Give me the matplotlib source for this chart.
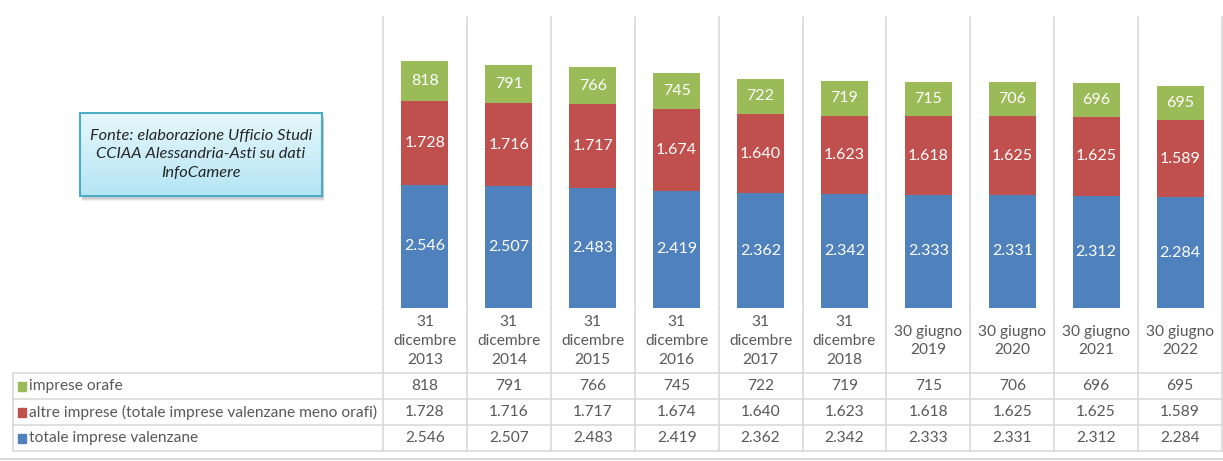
import numpy as np
import matplotlib
matplotlib.use("Agg")
import matplotlib.pyplot as plt
from matplotlib.patches import FancyBboxPatch, Rectangle
from matplotlib.colors import LinearSegmentedColormap

# data
categories = ["31\ndicembre\n2013", "31\ndicembre\n2014", "31\ndicembre\n2015",
              "31\ndicembre\n2016", "31\ndicembre\n2017", "31\ndicembre\n2018",
              "30 giugno\n2019", "30 giugno\n2020", "30 giugno\n2021", "30 giugno\n2022"]
orafe = [818, 791, 766, 745, 722, 719, 715, 706, 696, 695]
altre = [1728, 1716, 1717, 1674, 1640, 1623, 1618, 1625, 1625, 1589]
totale = [2546, 2507, 2483, 2419, 2362, 2342, 2333, 2331, 2312, 2284]

series_names = ["imprese orafe",
                "altre imprese (totale imprese valenzane meno orafi)",
                "totale imprese valenzane"]
blue, red, green = "#4F81BD", "#C0504D", "#9BBB59"
gridc = "#D9D9D9"
txtc = "#595959"

plt.rcParams['font.family'] = ['Lato', 'DejaVu Sans']
fs = 11.2


def fmt(v):
    # italian thousands separator
    return "{:,}".format(v).replace(",", ".")


W, H = 1223, 461
fig = plt.figure(figsize=(W / 100, H / 100), dpi=100)


def px_axes(x0, y0, x1, y1, **kw):
    return fig.add_axes([x0 / W, 1 - y1 / H, (x1 - x0) / W, (y1 - y0) / H], **kw)


n = len(categories)
x = np.arange(n)

# bars
ax = px_axes(383, 17, 1222, 308)
ax.set_xlim(-0.5, n - 0.5)
ax.set_ylim(0, 6000)
ax.axis("off")
bw = 0.56
b1 = ax.bar(x, totale, bw, color=blue)
b2 = ax.bar(x, altre, bw, bottom=totale, color=red)
b3 = ax.bar(x, orafe, bw, bottom=np.add(totale, altre), color=green)
for bars, vals in [(b1, totale), (b2, altre), (b3, orafe)]:
    for b, v in zip(bars, vals):
        ax.text(b.get_x() + b.get_width() / 2, b.get_y() + b.get_height() / 2,
                fmt(v), ha="center", va="center", color="white", fontsize=11.5)
for i in range(n + 1):
    ax.axvline(i - 0.5, color=gridc, lw=1.2, clip_on=False)

# data table below
left_units = (383 - 13) / ((1222 - 383) / n)
tb = px_axes(13, 308, 1222, 451)
tb.set_xlim(-0.5 - left_units, n - 0.5)
tb.set_ylim(143, 0)
tb.axis("off")
rows_y = [65, 91, 117, 143]
for i in range(n + 1):
    tb.plot([i - 0.5, i - 0.5], [0, 143], color=gridc, lw=1.2, clip_on=False)
xl = -0.5 - left_units
for yy in rows_y:
    tb.plot([xl, n - 0.5], [yy, yy], color=gridc, lw=1.2, clip_on=False)
tb.plot([xl, xl], [65, 143], color=gridc, lw=1.2, clip_on=False)
for i, c in enumerate(categories):
    tb.text(i, 33, c, ha="center", va="center", color=txtc, fontsize=fs,
            linespacing=1.45)
row_vals = [orafe, altre, totale]
row_cols = [green, red, blue]
for r, (name, vals, col) in enumerate(zip(series_names, row_vals, row_cols)):
    yc = (rows_y[r] + rows_y[r + 1]) / 2
    tb.add_patch(Rectangle((xl + 0.06, yc - 4.5), 0.1, 9, color=col, clip_on=False))
    tb.text(xl + 0.19, yc, name, ha="left", va="center", color=txtc, fontsize=fs)
    for i, v in enumerate(vals):
        tb.text(i, yc, fmt(v), ha="center", va="center", color=txtc, fontsize=fs)

# bottom border of chart area
fig.add_artist(plt.Line2D([0, 1], [1 - 459 / H, 1 - 459 / H],
                          color="#D9D9D9", lw=1.5))

# source note box with soft shadow and gradient fill
bx0, by0, bx1, by1 = 80, 113, 322, 196
for k, a in [(5, 0.12), (4, 0.15), (3, 0.2)]:
    fig.add_artist(FancyBboxPatch(((bx0 + 2) / W, 1 - (by1 + k) / H),
                                  (bx1 - bx0) / W, (by1 - by0) / H,
                                  boxstyle="square,pad=0", transform=fig.transFigure,
                                  facecolor="#808080", edgecolor="none", alpha=a,
                                  zorder=-5))
bax = px_axes(bx0, by0, bx1, by1)
bax.set_zorder(2)
bax.axis("off")
grad = LinearSegmentedColormap.from_list("g", ["#E6F7FC", "#B5E5F4"])
bax.imshow(np.linspace(0, 1, 100).reshape(-1, 1), cmap=grad, aspect="auto",
           extent=[0, 1, 0, 1], origin="upper")
bax.set_xlim(0, 1)
bax.set_ylim(0, 1)
bax.add_patch(Rectangle((0, 0), 1, 1, transform=bax.transAxes, fill=False,
                        edgecolor="#4BACC6", lw=1.5, clip_on=False))
bax.text(0.5, 0.5,
         "Fonte: elaborazione Ufficio Studi\nCCIAA Alessandria-Asti su dati\nInfoCamere",
         ha="center", va="center", style="italic", fontsize=11.8, color="#262626",
         linespacing=1.4)

fig.savefig("out.png", dpi=100)
